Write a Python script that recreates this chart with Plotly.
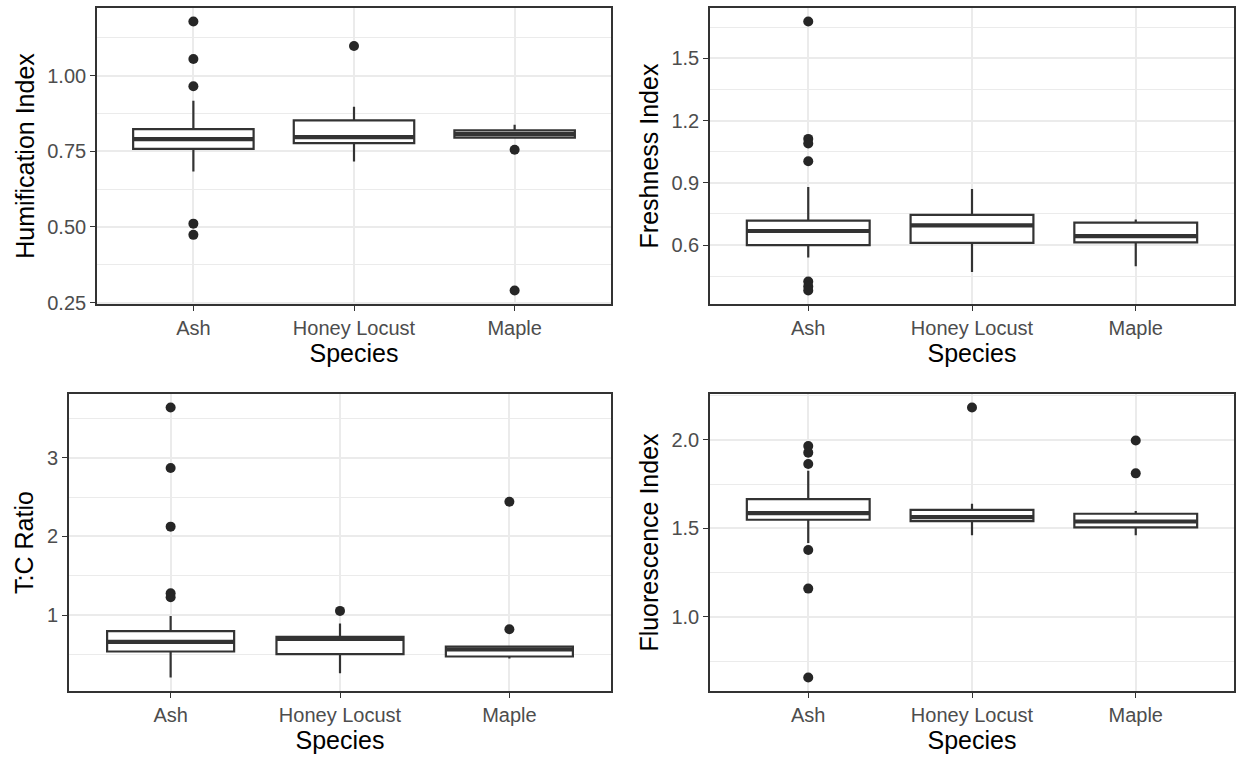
import plotly.graph_objects as go
from plotly.subplots import make_subplots

SPECIES = ["Ash", "Honey Locust", "Maple"]

# Humification Index
HUM_Q1 = [0.758, 0.777, 0.795]
HUM_MED = [0.790, 0.797, 0.807]
HUM_Q3 = [0.823, 0.852, 0.819]
HUM_LO = [0.683, 0.716, 0.795]
HUM_HI = [0.917, 0.897, 0.838]
HUM_OUT_X = ["Ash", "Ash", "Ash", "Ash", "Ash", "Honey Locust", "Maple", "Maple"]
HUM_OUT_Y = [1.179, 1.055, 0.965, 0.511, 0.474, 1.098, 0.755, 0.290]
HUM_TICKS = [0.25, 0.50, 0.75, 1.00]
HUM_TICKTEXT = ["0.25", "0.50", "0.75", "1.00"]

# Freshness Index
FR_Q1 = [0.600, 0.611, 0.613]
FR_MED = [0.668, 0.695, 0.643]
FR_Q3 = [0.718, 0.746, 0.708]
FR_LO = [0.540, 0.470, 0.498]
FR_HI = [0.880, 0.870, 0.724]
FR_OUT_X = ["Ash"] * 7
FR_OUT_Y = [1.678, 1.112, 1.090, 1.004, 0.425, 0.401, 0.381]
FR_TICKS = [0.6, 0.9, 1.2, 1.5]
FR_TICKTEXT = ["0.6", "0.9", "1.2", "1.5"]

# T:C Ratio
TC_Q1 = [0.539, 0.505, 0.476]
TC_MED = [0.662, 0.700, 0.565]
TC_Q3 = [0.797, 0.725, 0.603]
TC_LO = [0.209, 0.264, 0.450]
TC_HI = [0.990, 0.894, 0.610]
TC_OUT_X = ["Ash", "Ash", "Ash", "Ash", "Ash", "Honey Locust", "Maple", "Maple"]
TC_OUT_Y = [3.638, 2.869, 2.125, 1.279, 1.228, 1.055, 2.442, 0.822]
TC_TICKS = [1, 2, 3]
TC_TICKTEXT = ["1", "2", "3"]

# Fluorescence Index
FL_Q1 = [1.549, 1.541, 1.506]
FL_MED = [1.586, 1.564, 1.539]
FL_Q3 = [1.665, 1.605, 1.583]
FL_LO = [1.417, 1.462, 1.462]
FL_HI = [1.826, 1.639, 1.598]
FL_OUT_X = ["Ash"] * 6 + ["Honey Locust", "Maple", "Maple"]
FL_OUT_Y = [1.965, 1.928, 1.864, 1.378, 1.160, 0.658, 2.183, 1.997, 1.811]
FL_TICKS = [1.0, 1.5, 2.0]
FL_TICKTEXT = ["1.0", "1.5", "2.0"]

Y_TITLES = ["Humification Index", "Freshness Index", "T:C Ratio", "Fluorescence Index"]
X_TITLE = "Species"

FONT = "Liberation Sans, Arial, sans-serif"
DARK = "#333333"
GRID = "#EBEBEB"

panels = [
    (HUM_Q1, HUM_MED, HUM_Q3, HUM_LO, HUM_HI, HUM_OUT_X, HUM_OUT_Y, HUM_TICKS, HUM_TICKTEXT, 0.125, 0.25),
    (FR_Q1, FR_MED, FR_Q3, FR_LO, FR_HI, FR_OUT_X, FR_OUT_Y, FR_TICKS, FR_TICKTEXT, 0.15, 0.3),
    (TC_Q1, TC_MED, TC_Q3, TC_LO, TC_HI, TC_OUT_X, TC_OUT_Y, TC_TICKS, TC_TICKTEXT, 0.5, 1.0),
    (FL_Q1, FL_MED, FL_Q3, FL_LO, FL_HI, FL_OUT_X, FL_OUT_Y, FL_TICKS, FL_TICKTEXT, 0.25, 0.5),
]

W, H = 1238, 759
# panel boxes in pixels (left, right, top, bottom)
boxes = [(97, 611, 8, 304), (710, 1234, 8, 304), (69, 611, 394, 691), (710, 1234, 394, 691)]

fig = make_subplots(rows=2, cols=2)

for i, (q1, med, q3, lo, hi, ox, oy, tv, tt, m0, md) in enumerate(panels):
    r, c = i // 2 + 1, i % 2 + 1
    fig.add_trace(go.Box(x=SPECIES, q1=q1, median=med, q3=q3, lowerfence=lo, upperfence=hi,
                         boxpoints=False, fillcolor="white", line=dict(color=DARK, width=2.2),
                         width=0.75, whiskerwidth=0, showlegend=False, hoverinfo="skip"),
                  row=r, col=c)
    fig.add_trace(go.Box(x=SPECIES, q1=med, median=med, q3=med, lowerfence=med, upperfence=med,
                         boxpoints=False, fillcolor=DARK, line=dict(color=DARK, width=4.2),
                         width=0.75, whiskerwidth=0, showlegend=False, hoverinfo="skip"),
                  row=r, col=c)
    fig.add_trace(go.Scatter(x=ox, y=oy, mode="markers",
                             marker=dict(color="#262626", size=10, line=dict(width=0)),
                             showlegend=False, hoverinfo="skip"),
                  row=r, col=c)

    allv = lo + hi + q1 + q3 + oy
    vmin, vmax = min(allv), max(allv)
    pad = 0.05 * (vmax - vmin)
    l, rr, t, b = boxes[i]
    xname = "xaxis" if i == 0 else f"xaxis{i+1}"
    yname = "yaxis" if i == 0 else f"yaxis{i+1}"
    fig.layout[xname].update(
        domain=[l / W, rr / W], range=[-0.6, 2.6], type="category",
        showline=True, mirror=True, linecolor=DARK, linewidth=1.6,
        showgrid=True, gridcolor=GRID, gridwidth=1.8, zeroline=False,
        ticks="outside", ticklen=5, tickwidth=1.4, tickcolor=DARK,
        tickfont=dict(family=FONT, size=20, color="#4D4D4D"),
        title=dict(text=X_TITLE, font=dict(family=FONT, size=25, color="black"), standoff=4),
        automargin=False, fixedrange=True,
    )
    fig.layout[yname].update(
        domain=[1 - b / H, 1 - t / H], range=[vmin - pad, vmax + pad],
        tickvals=tv, ticktext=tt,
        showline=True, mirror=True, linecolor=DARK, linewidth=1.6,
        showgrid=True, gridcolor=GRID, gridwidth=1.8, zeroline=False,
        minor=dict(showgrid=True, gridcolor=GRID, gridwidth=1.0, tick0=m0, dtick=md, ticks=""),
        ticks="outside", ticklen=5, tickwidth=1.4, tickcolor=DARK,
        tickfont=dict(family=FONT, size=20, color="#4D4D4D"),
        title=dict(text=Y_TITLES[i], font=dict(family=FONT, size=25, color="black"), standoff=6),
        automargin=False, fixedrange=True,
    )

fig.update_layout(
    width=W, height=H, margin=dict(l=0, r=0, t=0, b=0),
    paper_bgcolor="white", plot_bgcolor="white", boxmode="overlay",
    showlegend=False,
)

fig.write_html("out.html")
